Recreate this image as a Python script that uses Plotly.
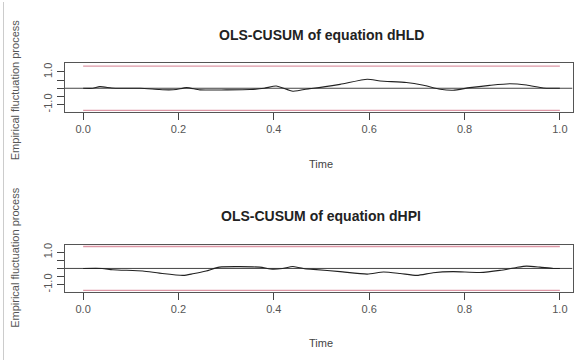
import plotly.graph_objects as go

# ---- data ----
time_hld = [0.0, 0.02, 0.035, 0.06, 0.08, 0.12, 0.16, 0.18, 0.195, 0.217, 0.245, 0.3, 0.35,
            0.38, 0.405, 0.44, 0.475, 0.483, 0.539, 0.596, 0.623, 0.678, 0.714, 0.749,
            0.776, 0.811, 0.853, 0.895, 0.93, 0.965, 0.986, 1.0]
cusum_hld = [0.0, 0.0, 0.1, 0.02, 0.0, 0.0, -0.08, -0.1, -0.08, 0.04, -0.1, -0.1, -0.08,
             0.0, 0.14, -0.18, -0.02, 0.0, 0.24, 0.55, 0.45, 0.35, 0.18, -0.06,
             -0.12, 0.04, 0.18, 0.28, 0.2, 0.02, 0.0, 0.0]

time_hpi = [0.0, 0.04, 0.062, 0.125, 0.16, 0.21, 0.23, 0.258, 0.286, 0.37, 0.397, 0.418,
            0.44, 0.468, 0.483, 0.539, 0.596, 0.63, 0.665, 0.7, 0.734, 0.776, 0.832,
            0.874, 0.909, 0.93, 0.958, 0.986, 1.0]
cusum_hpi = [0.0, 0.0, -0.08, -0.16, -0.29, -0.43, -0.33, -0.16, 0.08, 0.08, -0.04, 0.0,
             0.12, -0.04, -0.06, -0.2, -0.35, -0.22, -0.31, -0.43, -0.27, -0.2, -0.25,
             -0.12, 0.06, 0.14, 0.08, 0.0, 0.0]

boundary = 1.358
bound_time = [0.0, 1.0]
x_ticks = [0.0, 0.2, 0.4, 0.6, 0.8, 1.0]
x_ticktext = ["0.0", "0.2", "0.4", "0.6", "0.8", "1.0"]
y_ticks = [-1.0, -0.5, 0.0, 0.5, 1.0]
y_ticktext = ["-1.0", "", "", "", "1.0"]
titles = ["OLS-CUSUM of equation dHLD", "OLS-CUSUM of equation dHPI"]

W, H = 574, 361
FONT = "Liberation Sans, Arial, sans-serif"
RED = "#dd97a6"

def py(px):
    return 1 - px / H

fig = go.Figure()

panels = [
    dict(t=time_hld, v=cusum_hld, top=62, bot=110.5, yr=[-1.43, 1.52], xa="x", ya="y"),
    dict(t=time_hpi, v=cusum_hpi, top=244.7, bot=292.3, yr=[-1.45, 1.47], xa="x2", ya="y2"),
]

xdom = [65 / W, 573.5 / W]
xr = [-0.0383, 1.0265]

for i, p in enumerate(panels):
    xa, ya = p["xa"], p["ya"]
    # boundaries
    for s in (1, -1):
        fig.add_trace(go.Scatter(x=bound_time, y=[s * boundary, s * boundary], mode="lines",
                                 line=dict(color=RED, width=1.3), xaxis=xa, yaxis=ya,
                                 showlegend=False, hoverinfo="skip"))
    # zero line
    fig.add_trace(go.Scatter(x=[xr[0], xr[1]], y=[0, 0], mode="lines",
                             line=dict(color="#444444", width=1), xaxis=xa, yaxis=ya,
                             showlegend=False, hoverinfo="skip"))
    # process
    fig.add_trace(go.Scatter(x=p["t"], y=p["v"], mode="lines",
                             line=dict(color="#222222", width=1.1, shape="spline", smoothing=0.6),
                             xaxis=xa, yaxis=ya, showlegend=False))
    xkey = "xaxis" if i == 0 else "xaxis2"
    ykey = "yaxis" if i == 0 else "yaxis2"
    ydom = [py(p["bot"]), py(p["top"])]
    fig.update_layout(**{
        xkey: dict(domain=xdom, range=xr, anchor=ya, tickvals=x_ticks, ticktext=x_ticktext,
                   ticks="outside", ticklen=7, tickcolor="#444", showgrid=False, zeroline=False,
                   showline=True, linecolor="#555", linewidth=1, mirror=True,
                   tickfont=dict(size=11, color="#555", family=FONT)),
        ykey: dict(domain=ydom, range=p["yr"], anchor=xa, tickvals=y_ticks, ticktext=y_ticktext,
                   ticks="outside", ticklen=7, tickcolor="#444", showgrid=False, zeroline=False,
                   showline=True, linecolor="#555", linewidth=1, mirror=True, tickangle=-90,
                   tickfont=dict(size=11, color="#555", family=FONT)),
    })

annots = [
    dict(text="<b>" + titles[0] + "</b>", x=322 / W, y=py(33), font=dict(size=14, color="#222")),
    dict(text="<b>" + titles[1] + "</b>", x=322 / W, y=py(216), font=dict(size=14, color="#222")),
    dict(text="Time", x=322 / W, y=py(163), font=dict(size=11, color="#444")),
    dict(text="Time", x=322 / W, y=py(344), font=dict(size=11, color="#444")),
    dict(text="Empirical fluctuation process", x=15 / W, y=py(88), textangle=-90,
         font=dict(size=11, color="#555")),
    dict(text="Empirical fluctuation process", x=15 / W, y=py(257), textangle=-90,
         font=dict(size=11, color="#555")),
]
for a in annots:
    a.update(xref="paper", yref="paper", showarrow=False, xanchor="center", yanchor="middle")
    a["font"]["family"] = FONT
    fig.add_annotation(**a)

fig.add_shape(type="line", xref="paper", yref="paper", x0=3.5 / W, x1=3.5 / W, y0=0, y1=1,
              line=dict(color="#cccccc", width=1))

fig.update_layout(width=W, height=H, margin=dict(l=0, r=0, t=0, b=0),
                  paper_bgcolor="white", plot_bgcolor="white", showlegend=False)

fig.write_html("out.html", config={"displayModeBar": False},
               post_script="document.body.style.margin='0';document.body.style.overflow='hidden';")
